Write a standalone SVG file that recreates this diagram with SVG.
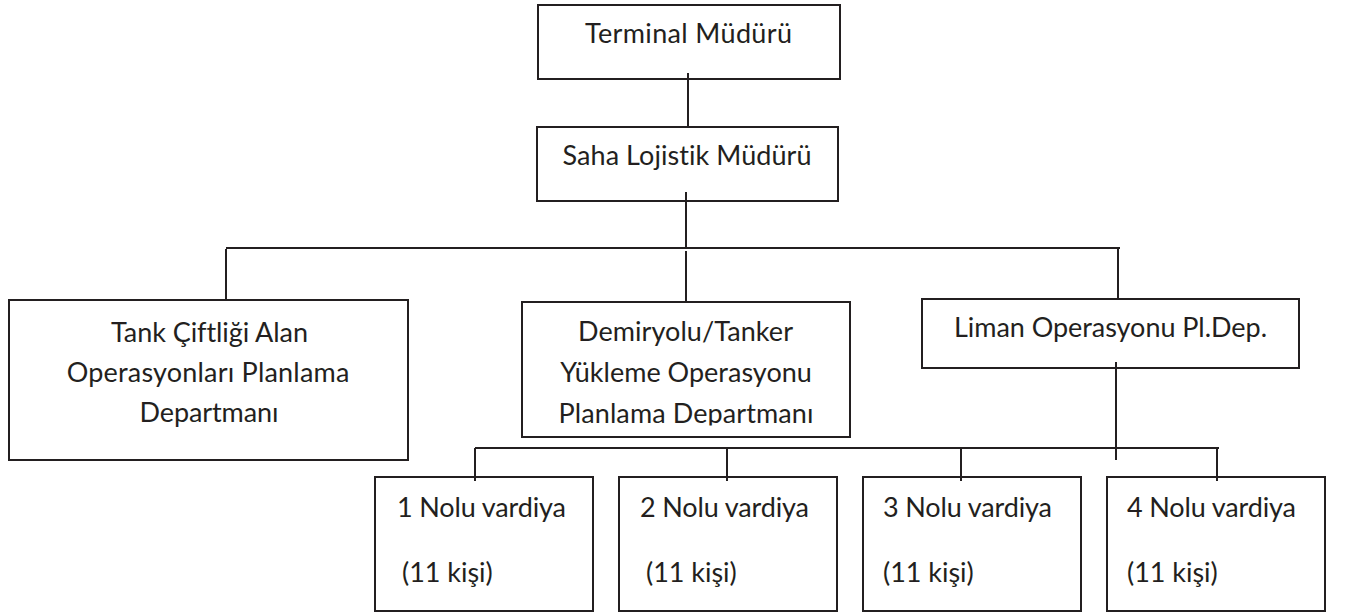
<svg xmlns="http://www.w3.org/2000/svg" width="1345" height="613" viewBox="0 0 1345 613">
<style>
  .box { fill: #ffffff; stroke: #231f20; stroke-width: 2; }
  .conn { stroke: #231f20; stroke-width: 2; fill: none; }
  text { font-family: Lato, "Liberation Sans", sans-serif; font-size: 27px; fill: #231f20; font-variant-ligatures: none; }
  .c { text-anchor: middle; }
</style>
<defs>
  <clipPath id="clipDem"><rect x="522" y="302" width="328" height="123.5"/></clipPath>
</defs>
<rect width="1345" height="613" fill="#ffffff"/>
<g id="connectors">
  <line class="conn" x1="688" y1="73" x2="688" y2="127"/>
  <line class="conn" x1="686" y1="192" x2="686" y2="248"/>
  <line class="conn" x1="226" y1="248" x2="1120" y2="248"/>
  <line class="conn" x1="226" y1="249" x2="226" y2="300"/>
  <line class="conn" x1="686" y1="251" x2="686" y2="302"/>
  <line class="conn" x1="1118" y1="248" x2="1118" y2="299"/>
  <line class="conn" x1="1116" y1="362" x2="1116" y2="460"/>
  <line class="conn" x1="475" y1="448" x2="1219" y2="448"/>
  <line class="conn" x1="475" y1="448" x2="475" y2="481"/>
  <line class="conn" x1="727" y1="448" x2="727" y2="481"/>
  <line class="conn" x1="961" y1="448" x2="961" y2="481"/>
  <line class="conn" x1="1217" y1="448" x2="1217" y2="481"/>
</g>
<g id="terminal">
  <rect class="box" x="538" y="5" width="302" height="74"/>
  <line class="conn" x1="688" y1="73" x2="688" y2="79"/>
  <text class="c" x="688.5" y="43" textLength="207">Terminal Müdürü</text>
</g>
<g id="saha">
  <rect class="box" x="537" y="127" width="301" height="74"/>
  <line class="conn" x1="686" y1="192" x2="686" y2="201"/>
  <text class="c" x="687" y="165" textLength="249">Saha Lojistik Müdürü</text>
</g>
<g id="tank">
  <rect class="box" x="9" y="300" width="399" height="160"/>
  <text class="c" x="209.5" y="341.5" textLength="197">Tank Çiftliği Alan</text>
  <text class="c" x="208" y="381.5" textLength="282.7">Operasyonları Planlama</text>
  <text class="c" x="209" y="421.5" textLength="139">Departmanı</text>
</g>
<g id="demiryolu">
  <rect class="box" x="522" y="302" width="328" height="135"/>
  <text class="c" x="685.5" y="341" textLength="215">Demiryolu/Tanker</text>
  <text class="c" x="686" y="382" textLength="251.7">Yükleme Operasyonu</text>
  <text class="c" x="686" y="423" textLength="255" clip-path="url(#clipDem)">Planlama Departmanı</text>
</g>
<g id="liman">
  <rect class="box" x="922" y="299" width="377" height="69"/>
  <line class="conn" x1="1116" y1="362" x2="1116" y2="368"/>
  <text class="c" x="1110.5" y="337" textLength="313">Liman Operasyonu Pl.Dep.</text>
</g>
<g id="vardiya1">
  <rect class="box" x="375" y="477" width="218" height="134"/>
  <line class="conn" x1="475" y1="477" x2="475" y2="481"/>
  <text x="397" y="517" textLength="169">1 Nolu vardiya</text>
  <text x="402" y="582" textLength="90.7">(11 kişi)</text>
</g>
<g id="vardiya2">
  <rect class="box" x="619" y="477" width="218" height="134"/>
  <line class="conn" x1="727" y1="477" x2="727" y2="481"/>
  <text x="640" y="517" textLength="169">2 Nolu vardiya</text>
  <text x="646" y="582" textLength="90.7">(11 kişi)</text>
</g>
<g id="vardiya3">
  <rect class="box" x="863" y="477" width="218" height="134"/>
  <line class="conn" x1="961" y1="477" x2="961" y2="481"/>
  <text x="883" y="517" textLength="169">3 Nolu vardiya</text>
  <text x="883" y="582" textLength="90.7">(11 kişi)</text>
</g>
<g id="vardiya4">
  <rect class="box" x="1107" y="477" width="218" height="134"/>
  <line class="conn" x1="1217" y1="477" x2="1217" y2="481"/>
  <text x="1127" y="517" textLength="169">4 Nolu vardiya</text>
  <text x="1127" y="582" textLength="90.7">(11 kişi)</text>
</g>
</svg>
